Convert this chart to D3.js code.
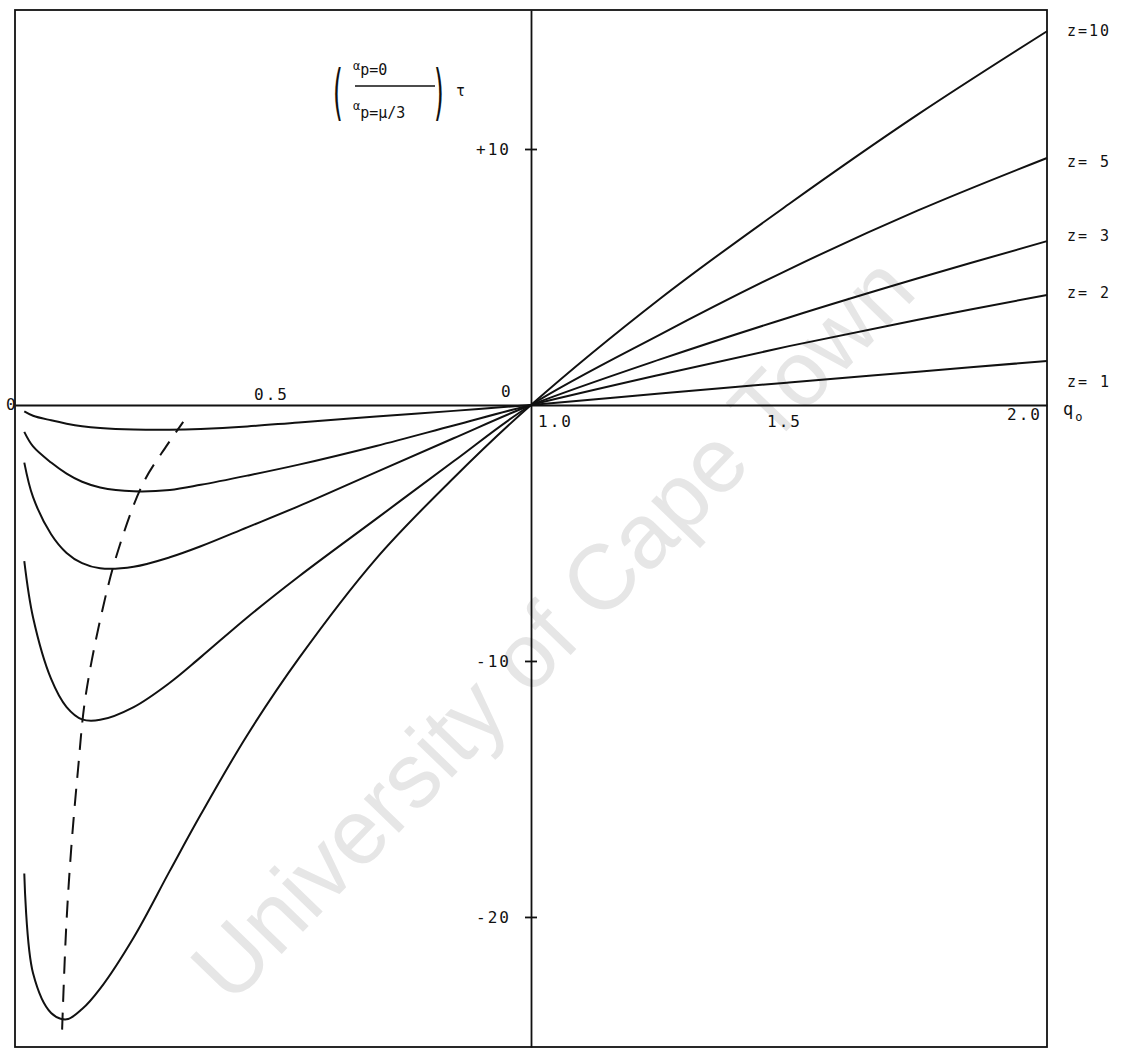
<!DOCTYPE html>
<html>
<head>
<meta charset="utf-8">
<script src="https://cdn.jsdelivr.net/npm/d3@7"></script>
<style>
  body { margin: 0; background: #fff; }
  svg { display: block; }
  .lbl { font-family: "DejaVu Sans Mono", "Liberation Mono", monospace; font-size: 16px; fill: #111; letter-spacing: 2px; }
</style>
</head>
<body>
<svg id="chart" width="1121" height="1050"></svg>
<script>
// q0 sample points shared by every curve
const qGrid = [0.018, 0.035, 0.07, 0.10, 0.13, 0.165, 0.23, 0.30, 0.36, 0.45, 0.55, 0.70, 0.85, 1.0, 1.25, 1.5, 1.75, 2.0];

// (alpha_p=0 / alpha_p=mu/3) * tau for each z
const tauZ1  = [-0.25, -0.42, -0.60, -0.73, -0.83, -0.90, -0.96, -0.97, -0.94, -0.84, -0.68, -0.45, -0.23, 0, 0.45, 0.88, 1.30, 1.72];
const tauZ2  = [-1.05, -1.62, -2.25, -2.68, -3.00, -3.22, -3.37, -3.32, -3.12, -2.76, -2.33, -1.60, -0.80, 0, 1.18, 2.30, 3.33, 4.30];
const tauZ3  = [-2.25, -3.60, -5.05, -5.78, -6.18, -6.38, -6.32, -5.95, -5.52, -4.78, -3.95, -2.62, -1.30, 0, 1.78, 3.42, 4.95, 6.40];
const tauZ5  = [-6.10, -8.30, -10.70, -11.80, -12.28, -12.30, -11.80, -10.85, -9.85, -8.30, -6.70, -4.45, -2.20, 0, 2.75, 5.30, 7.60, 9.65];
const tauZ10 = [-18.3, -22.2, -23.75, -24.0, -23.6, -22.8, -20.8, -18.2, -16.0, -12.9, -9.9, -6.0, -2.85, 0, 4.15, 7.85, 11.35, 14.6];

const seriesValues = [tauZ10, tauZ5, tauZ3, tauZ2, tauZ1];
const seriesLabels = ["z=10", "z= 5", "z= 3", "z= 2", "z= 1"];
// height of each label on the tau scale
const labelTau = [14.6, 9.5, 6.6, 4.4, 0.9];

// locus of the minima (dashed)
const minimaQ   = [0.0913, 0.099, 0.1087, 0.1223, 0.1359, 0.165, 0.198, 0.2485, 0.295, 0.326];
const minimaTau = [-24.4, -20.5, -17.4, -14.2, -11.5, -8.4, -5.8, -3.05, -1.56, -0.66];

const xTickValues = [0.5, 1.0, 1.5, 2.0];
const xTickLabels = ["0.5", "1.0", "1.5", "2.0"];
const yTickValues = [10, -10, -20];
const yTickLabels = ["+10", "-10", "-20"];

const svg = d3.select("#chart");

const x = d3.scaleLinear().domain([0, 2]).range([15, 1047]);
const y = d3.scaleLinear().domain([-25.08, 15.43]).range([1047, 10]);

// watermark
svg.append("text")
  .attr("transform", "translate(552,628) rotate(-46)")
  .attr("text-anchor", "middle")
  .attr("dominant-baseline", "central")
  .style("font-family", "'Liberation Sans', Arial, sans-serif")
  .style("font-size", "92px")
  .style("fill", "#e6e6e6")
  .text("University of Cape Town");

// frame
svg.append("rect")
  .attr("x", x(0)).attr("y", y(15.43))
  .attr("width", x(2) - x(0)).attr("height", y(-25.08) - y(15.43))
  .attr("fill", "none").attr("stroke", "#111").attr("stroke-width", 1.8);

// x axis along tau = 0
svg.append("g")
  .attr("transform", `translate(0,${y(0)})`)
  .call(d3.axisBottom(x).tickValues([]).tickSizeOuter(0))
  .call(g => g.select(".domain").attr("stroke", "#111").attr("stroke-width", 1.8));

// y axis at q0 = 1
const yAxis = svg.append("g")
  .attr("transform", `translate(${x(1)},0)`)
  .call(d3.axisLeft(y).tickValues(yTickValues).tickSizeOuter(0)
        .tickFormat((d, i) => yTickLabels[i]));
yAxis.select(".domain").attr("stroke", "#111").attr("stroke-width", 1.8);
yAxis.selectAll(".tick line").attr("x1", -6).attr("x2", 6).attr("stroke", "#111").attr("stroke-width", 1.8);
yAxis.selectAll(".tick text").attr("class", "lbl").attr("x", -20).attr("dy", "0.35em")
  .style("font-family", "'DejaVu Sans Mono', monospace").style("font-size", "16px").style("letter-spacing", "2px");

// axis labels
const lbl = (tx, ty, t, anchor) => svg.append("text").attr("class", "lbl")
  .attr("x", tx).attr("y", ty).attr("text-anchor", anchor || "start").text(t);

lbl(x(0) - 9, y(0) + 5, "0");
lbl(x(1) - 30, y(0) - 8, "0");
lbl(x(xTickValues[0]) - 19, y(0) - 5, xTickLabels[0]);
lbl(x(xTickValues[1]) + 7, y(0) + 22, xTickLabels[1]);
lbl(x(xTickValues[2]) - 22, y(0) + 22, xTickLabels[2]);
lbl(x(xTickValues[3]) - 40, y(0) + 15, xTickLabels[3]);

const q0 = svg.append("text").attr("class", "lbl").attr("x", x(2) + 16).attr("y", y(0) + 10);
q0.append("tspan").style("font-size", "17px").text("q");
q0.append("tspan").attr("dy", 6).style("font-size", "12px").text("o");

// ordinate label: (alpha_p=0 / alpha_p=mu/3) tau
const f = svg.append("g").style("font-family", "'DejaVu Sans Mono', monospace").style("fill", "#111");
f.append("text").attr("transform", "translate(333,113) scale(0.5,1.2)")
  .style("font-size", "50px").style("font-family", "'DejaVu Sans', sans-serif").text("(");
f.append("text").attr("transform", "translate(434,113) scale(0.5,1.2)")
  .style("font-size", "50px").style("font-family", "'DejaVu Sans', sans-serif").text(")");
const num = f.append("text").attr("x", 353).attr("y", 75);
num.append("tspan").style("font-size", "12px").attr("dy", -5).text("α");
num.append("tspan").style("font-size", "15px").attr("dy", 5).text("p=0");
f.append("line").attr("x1", 355).attr("x2", 435).attr("y1", 86).attr("y2", 86).attr("stroke", "#111").attr("stroke-width", 1.6);
const den = f.append("text").attr("x", 353).attr("y", 118);
den.append("tspan").style("font-size", "12px").attr("dy", -8).text("α");
den.append("tspan").style("font-size", "15px").attr("dy", 8).text("p=μ/3");
f.append("text").attr("x", 456).attr("y", 96).style("font-size", "15px").text("τ");

// curves
const line = d3.line()
  .x((d, i) => x(qGrid[i]))
  .y(d => y(d))
  .curve(d3.curveCatmullRom.alpha(0.5));

svg.append("g").selectAll("path")
  .data(seriesValues)
  .join("path")
  .attr("d", line)
  .attr("fill", "none")
  .attr("stroke", "#111")
  .attr("stroke-width", 2);

// dashed locus of minima
const dashLine = d3.line()
  .x((d, i) => x(minimaQ[i]))
  .y(d => y(d))
  .curve(d3.curveCatmullRom.alpha(0.5));

svg.append("path")
  .datum(minimaTau)
  .attr("d", dashLine)
  .attr("fill", "none")
  .attr("stroke", "#111")
  .attr("stroke-width", 2)
  .attr("stroke-dasharray", "17,11");

// curve labels at the right edge
svg.append("g").selectAll("text")
  .data(seriesLabels)
  .join("text")
  .attr("class", "lbl")
  .attr("x", x(2) + 20)
  .attr("y", (d, i) => y(labelTau[i]))
  .attr("dy", "0.35em")
  .style("font-size", "15px")
  .text(d => d);
</script>
</body>
</html>
